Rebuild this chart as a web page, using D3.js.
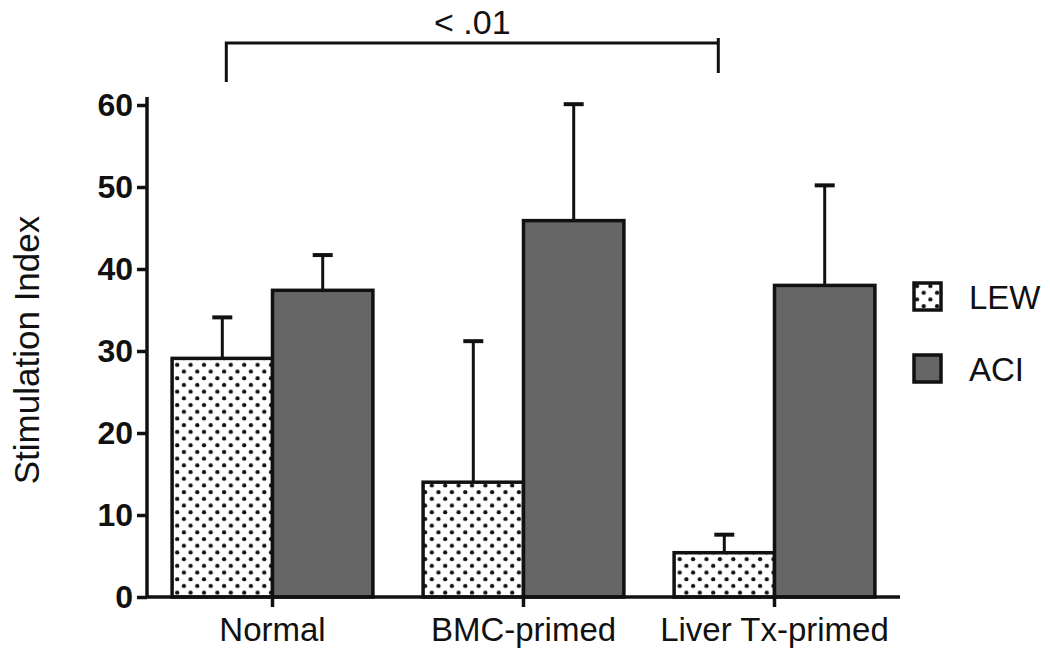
<!DOCTYPE html>
<meta charset="utf-8">
<style>
  body { margin: 0; background: #fff; }
  text { font-family: "Liberation Sans", Arial, Helvetica, sans-serif; fill: #111; }
  .axis path, .axis line { stroke: #111; stroke-width: 3.5px; }
  .axis text { font-size: 33px; }
  .y.axis text { font-weight: bold; font-size: 32px; }
</style>
<body>
<svg width="1050" height="648"></svg>
<script src="https://d3js.org/d3.v7.min.js"></script>
<script>
// data
const categories = ['Normal', 'BMC-primed', 'Liver Tx-primed'];
const series = ['LEW', 'ACI'];
const lewMean = [29.1, 14.0, 5.4];
const lewSem = [5.0, 17.2, 2.2];
const aciMean = [37.4, 45.9, 38.0];
const aciSem = [4.3, 14.2, 12.2];
const yTicks = [0, 10, 20, 30, 40, 50, 60];
const pLabel = '< .01';

const svg = d3.select('svg');

// dotted fill
const defs = svg.append('defs');
const pat = defs.append('pattern')
  .attr('id', 'dots')
  .attr('patternUnits', 'userSpaceOnUse')
  .attr('width', 13.4)
  .attr('height', 13.4);
pat.append('rect').attr('width', 13.4).attr('height', 13.4).attr('fill', '#fff');
pat.append('circle').attr('cx', 3).attr('cy', 3).attr('r', 2.1).attr('fill', '#111');
pat.append('circle').attr('cx', 9.7).attr('cy', 9.7).attr('r', 2.1).attr('fill', '#111');

const fills = { LEW: 'url(#dots)', ACI: '#666' };

const x = d3.scaleBand()
  .domain(categories)
  .range([147, 900])
  .paddingInner(0.2)
  .paddingOuter(0.1);

const xs = d3.scaleBand()
  .domain(series)
  .range([0, x.bandwidth()]);

const y = d3.scaleLinear()
  .domain([0, 60])
  .range([597, 105]);

const rows = [];
categories.forEach((c, i) => {
  rows.push({ cat: c, s: 'LEW', v: lewMean[i], e: lewSem[i] });
  rows.push({ cat: c, s: 'ACI', v: aciMean[i], e: aciSem[i] });
});

// error bars (behind bars)
const eb = svg.append('g');
eb.selectAll('line.stem')
  .data(rows)
  .enter().append('line')
  .attr('x1', d => x(d.cat) + xs(d.s) + xs.bandwidth() / 2)
  .attr('x2', d => x(d.cat) + xs(d.s) + xs.bandwidth() / 2)
  .attr('y1', d => y(d.v))
  .attr('y2', d => y(d.v + d.e))
  .attr('stroke', '#111')
  .attr('stroke-width', 3);
eb.selectAll('line.cap')
  .data(rows)
  .enter().append('line')
  .attr('x1', d => x(d.cat) + xs(d.s) + xs.bandwidth() / 2 - 10)
  .attr('x2', d => x(d.cat) + xs(d.s) + xs.bandwidth() / 2 + 10)
  .attr('y1', d => y(d.v + d.e))
  .attr('y2', d => y(d.v + d.e))
  .attr('stroke', '#111')
  .attr('stroke-width', 4);

// bars
svg.append('g')
  .selectAll('rect')
  .data(rows)
  .enter().append('rect')
  .attr('x', d => x(d.cat) + xs(d.s))
  .attr('y', d => y(d.v))
  .attr('width', xs.bandwidth())
  .attr('height', d => y(0) - y(d.v))
  .attr('fill', d => fills[d.s])
  .attr('stroke', '#111')
  .attr('stroke-width', 3.5);

// y axis
const yAxis = svg.append('g')
  .attr('class', 'y axis')
  .attr('transform', 'translate(147,0)')
  .call(d3.axisLeft(y).tickValues(yTicks).tickSize(10).tickSizeOuter(0).tickPadding(4));
yAxis.select('.domain').attr('d', 'M0,' + (y(60) - 8) + 'V' + y(0));

// x axis
const xAxis = svg.append('g')
  .attr('class', 'x axis')
  .attr('transform', 'translate(0,' + y(0) + ')')
  .call(d3.axisBottom(x).tickSize(10).tickSizeOuter(0).tickPadding(3));
xAxis.select('.domain').attr('d', 'M147,0H900');
xAxis.selectAll('text').attr('dy', '0.95em');

// y label
svg.append('text')
  .attr('transform', 'translate(39,350) rotate(-90)')
  .attr('text-anchor', 'middle')
  .style('font-size', '35px')
  .text('Stimulation Index');

// significance bracket: Normal LEW vs Liver Tx LEW
const bx1 = x(categories[0]) + xs('LEW') + xs.bandwidth() / 2 + 4;
const bx2 = x(categories[2]) + xs('LEW') + xs.bandwidth() / 2 - 6;
svg.append('path')
  .attr('d', `M${bx1},82V43H${bx2}M${bx2},38V73`)
  .attr('fill', 'none')
  .attr('stroke', '#111')
  .attr('stroke-width', 3);
svg.append('text')
  .attr('x', (bx1 + bx2) / 2)
  .attr('y', 34)
  .attr('text-anchor', 'middle')
  .style('font-size', '34px')
  .text(pLabel);

// legend
const legend = svg.append('g')
  .selectAll('g')
  .data(series)
  .enter().append('g')
  .attr('transform', (d, i) => 'translate(914,' + (283 + i * 72) + ')');
legend.append('rect')
  .attr('width', 27)
  .attr('height', 27)
  .attr('fill', d => fills[d])
  .attr('stroke', '#111')
  .attr('stroke-width', 3.5);
legend.append('text')
  .attr('x', 55)
  .attr('y', 14)
  .attr('dy', '0.36em')
  .style('font-size', '33px')
  .text(d => d);
</script>
</body>
